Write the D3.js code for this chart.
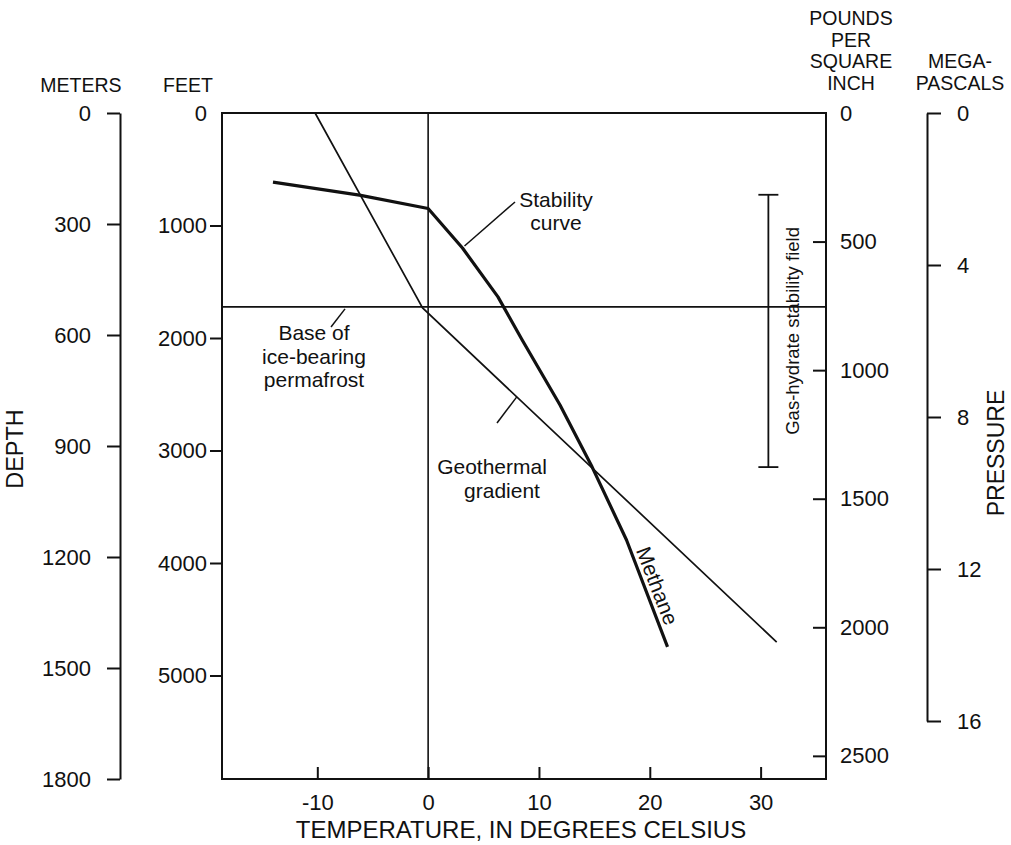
<!DOCTYPE html>
<html>
<head>
<meta charset="utf-8">
<script src="https://cdn.jsdelivr.net/npm/d3@7"></script>
<style>
  html, body { margin: 0; padding: 0; background: #fff; }
  svg text { font-family: "Liberation Sans", Arial, Helvetica, sans-serif; fill: #111; }
</style>
</head>
<body>
<svg id="chart" width="1011" height="845"></svg>
<script>
// Tick values for each scale
const tempTicks = [-10, 0, 10, 20, 30];
const meterTicks = [0, 300, 600, 900, 1200, 1500, 1800];
const feetTicks = [0, 1000, 2000, 3000, 4000, 5000];
const psiTicks = [0, 500, 1000, 1500, 2000, 2500];
const mpaTicks = [0, 4, 8, 12, 16];

// Geothermal gradient: [temperature °C, depth m]
const geothermal = [[-10.2, 0], [-0.5, 527], [31.45, 1430]];

// Methane hydrate stability curve: [temperature °C, depth m]
const stability = [
  [-14.0, 187], [-6.2, 222], [0, 258], [3.1, 365], [6.3, 497],
  [8.5, 614], [11.9, 789], [14.8, 957], [17.9, 1154], [21.6, 1443]
];

// Base of ice-bearing permafrost (m)
const permafrostBase = 524;
// Gas-hydrate stability field, top and bottom (m)
const hydrateField = [221, 957];

const svg = d3.select("#chart");
const ink = "#111";

const x = d3.scaleLinear([-18.6, 35.9], [222, 826]);
const yM = d3.scaleLinear([0, 1800], [113, 779]);
const yFt = d3.scaleLinear([0, 5920], [113, 779]);
const yPsi = d3.scaleLinear([0, 2590], [113, 779]);
const yMpa = d3.scaleLinear([0, 16], [113, 721]);

const numSize = "22px";
const plain = d => String(d);

function styleAxis(g, hideZeroTick) {
  g.selectAll(".tick line").attr("stroke", ink).attr("stroke-width", 2);
  g.selectAll(".tick text").attr("font-size", numSize).attr("fill", ink);
  g.select(".domain").attr("stroke", ink).attr("stroke-width", 2);
  g.attr("font-family", null);
  if (hideZeroTick) g.selectAll(".tick").filter(d => d === 0).select("line").remove();
}

// Plot frame
svg.append("rect")
  .attr("x", x.range()[0]).attr("y", yM.range()[0])
  .attr("width", x.range()[1] - x.range()[0])
  .attr("height", yM.range()[1] - yM.range()[0])
  .attr("fill", "none").attr("stroke", ink).attr("stroke-width", 2);

// Meters axis (detached, left)
svg.append("g").attr("transform", "translate(120,0)")
  .call(d3.axisLeft(yM).tickValues(meterTicks).tickFormat(plain)
    .tickSize(13).tickSizeOuter(0).tickPadding(16))
  .call(g => styleAxis(g, false));

// Feet axis on the frame's left edge
svg.append("g").attr("transform", `translate(${x.range()[0]},0)`)
  .call(d3.axisLeft(yFt).tickValues(feetTicks).tickFormat(plain)
    .tickSize(12).tickSizeOuter(0).tickPadding(3))
  .call(g => { styleAxis(g, true); g.select(".domain").remove(); });

// Pounds per square inch on the frame's right edge (ticks point inward)
svg.append("g").attr("transform", `translate(${x.range()[1]},0)`)
  .call(d3.axisRight(yPsi).tickValues(psiTicks).tickFormat(plain)
    .tickSize(-13).tickSizeOuter(0).tickPadding(14))
  .call(g => { styleAxis(g, true); g.select(".domain").remove(); });

// Megapascals axis (detached, right)
svg.append("g").attr("transform", "translate(927,0)")
  .call(d3.axisRight(yMpa).tickValues(mpaTicks).tickFormat(plain)
    .tickSize(14).tickSizeOuter(0).tickPadding(16))
  .call(g => styleAxis(g, false));

// Temperature axis (ticks point up into the plot)
svg.append("g").attr("transform", `translate(0,${yM.range()[1]})`)
  .call(d3.axisBottom(x).tickValues(tempTicks).tickFormat(plain)
    .tickSize(-12).tickSizeOuter(0).tickPadding(15))
  .call(g => { styleAxis(g, false); g.select(".domain").remove(); });

// 0 °C reference line
svg.append("line")
  .attr("x1", x(0)).attr("x2", x(0))
  .attr("y1", yM.range()[0]).attr("y2", yM.range()[1])
  .attr("stroke", ink).attr("stroke-width", 1.6);

// Base of permafrost line
svg.append("line")
  .attr("x1", x.range()[0]).attr("x2", x.range()[1])
  .attr("y1", yM(permafrostBase)).attr("y2", yM(permafrostBase))
  .attr("stroke", ink).attr("stroke-width", 1.6);

const line = d3.line().x(d => x(d[0])).y(d => yM(d[1]));

svg.append("path").datum(geothermal)
  .attr("d", line).attr("fill", "none")
  .attr("stroke", ink).attr("stroke-width", 1.7);

svg.append("path").datum(stability)
  .attr("d", line).attr("fill", "none")
  .attr("stroke", ink).attr("stroke-width", 3.2)
  .attr("stroke-linejoin", "round");

// Gas-hydrate stability field bracket
const bx = x(30.7);
const bracket = svg.append("g").attr("stroke", ink).attr("stroke-width", 1.8);
bracket.append("line").attr("x1", bx).attr("x2", bx)
  .attr("y1", yM(hydrateField[0])).attr("y2", yM(hydrateField[1]));
hydrateField.forEach(d => {
  bracket.append("line").attr("x1", bx - 10).attr("x2", bx + 10)
    .attr("y1", yM(d)).attr("y2", yM(d));
});
svg.append("text")
  .attr("transform", `translate(${bx + 31},${(yM(hydrateField[0]) + yM(hydrateField[1])) / 2}) rotate(-90)`)
  .attr("text-anchor", "middle").attr("font-size", "18.5px")
  .text("Gas-hydrate stability field");

// Annotations
const labelSize = "21px";
function leader(x1, y1, x2, y2) {
  svg.append("line").attr("x1", x1).attr("y1", y1).attr("x2", x2).attr("y2", y2)
    .attr("stroke", ink).attr("stroke-width", 1.5);
}
function label(lines, cx, y0, dy) {
  lines.forEach((t, i) => {
    svg.append("text").attr("x", cx).attr("y", y0 + i * dy)
      .attr("text-anchor", "middle").attr("font-size", labelSize).text(t);
  });
}

// Stability curve
const sp = stability[3];
leader(x(sp[0]) + 2, yM(sp[1]) - 2, 515, 202);
label(["Stability", "curve"], 556, 207, 23);

// Base of ice-bearing permafrost
leader(x(-7.5), yM(permafrostBase) + 2, 331, 327);
label(["Base of", "ice-bearing", "permafrost"], 314, 340, 23.5);

// Geothermal gradient: leader starts on the gradient line at 8 °C
{
  const g0 = geothermal[1], g1 = geothermal[2];
  const tLead = 8.0;
  const dLead = g0[1] + (g1[1] - g0[1]) * (tLead - g0[0]) / (g1[0] - g0[0]);
  leader(x(tLead), yM(dLead), 497, 423);
}
label(["Geothermal"], 492, 474, 0);
label(["gradient"], 502, 498, 0);

// Methane label set along the stability curve
{
  const a = stability[8], b = stability[9];
  const ax = x(a[0]), ay = yM(a[1]), bxp = x(b[0]), byp = yM(b[1]);
  const t = 0.47;
  const px = ax + (bxp - ax) * t, py = ay + (byp - ay) * t;
  const ang = Math.atan2(byp - ay, bxp - ax);
  const nx = Math.sin(ang), ny = -Math.cos(ang);
  svg.append("text")
    .attr("transform", `translate(${px + nx * 5},${py + ny * 5}) rotate(${ang * 180 / Math.PI})`)
    .attr("text-anchor", "middle").attr("font-size", labelSize).text("Methane");
}

// Unit headings
const headSize = "19.5px";
function heading(lines, cx, yLast) {
  lines.forEach((t, i) => {
    svg.append("text").attr("x", cx).attr("y", yLast - (lines.length - 1 - i) * 21.7)
      .attr("text-anchor", "middle").attr("font-size", headSize).text(t);
  });
}
heading(["METERS"], 81, 92);
heading(["FEET"], 188, 92);
heading(["POUNDS", "PER", "SQUARE", "INCH"], 851, 90);
heading(["MEGA-", "PASCALS"], 960, 90);

// Axis titles
svg.append("text").attr("transform", "translate(23,449) rotate(-90)")
  .attr("text-anchor", "middle").attr("font-size", "23.5px").text("DEPTH");
svg.append("text").attr("transform", "translate(1004,453) rotate(-90)")
  .attr("text-anchor", "middle").attr("font-size", "23px").text("PRESSURE");
svg.append("text").attr("x", 521).attr("y", 838)
  .attr("text-anchor", "middle").attr("font-size", "24px")
  .text("TEMPERATURE, IN DEGREES CELSIUS");
</script>
</body>
</html>
